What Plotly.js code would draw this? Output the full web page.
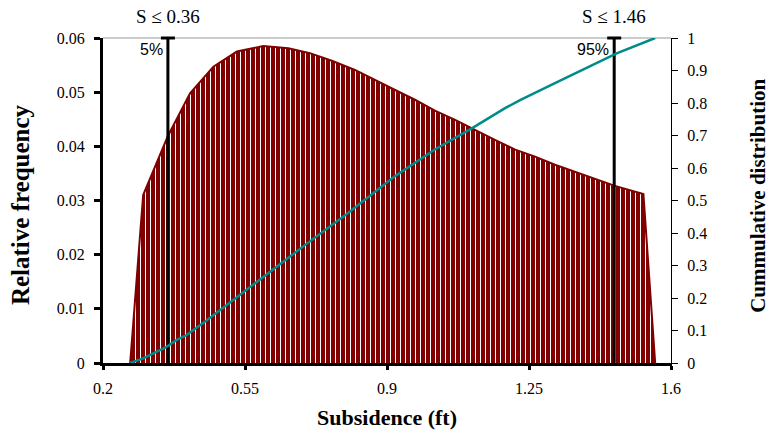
<!DOCTYPE html>
<html>
<head>
<meta charset="utf-8">
<script src="https://cdn.plot.ly/plotly-3.0.1.min.js"></script>
<style>html,body{margin:0;padding:0;background:#fff;}#chart{width:769px;height:431px;}</style>
</head>
<body>
<div id="chart"></div>
<script>
// Relative frequency outline (subsidence in ft)
const freqX = [0.267, 0.299, 0.360, 0.4145, 0.472, 0.530, 0.595, 0.657, 0.710, 0.764, 0.821, 0.870, 0.920, 0.969, 1.018, 1.068, 1.117, 1.166, 1.216, 1.265, 1.314, 1.363, 1.413, 1.462, 1.532, 1.561];
const freqY = [0, 0.0310, 0.0419, 0.0498, 0.0547, 0.0575, 0.0585, 0.0581, 0.0572, 0.0558, 0.0541, 0.0522, 0.0504, 0.0486, 0.0466, 0.0449, 0.0430, 0.0412, 0.0394, 0.0381, 0.0366, 0.0353, 0.0341, 0.0327, 0.0312, 0];
// Cumulative distribution
const cumX = [0.267, 0.30, 0.353, 0.382, 0.406, 0.451, 0.521, 0.60, 0.70, 0.80, 0.92, 1.018, 1.109, 1.191, 1.228, 1.314, 1.433, 1.466, 1.561];
const cumY = [0, 0.015, 0.047, 0.071, 0.086, 0.127, 0.194, 0.27, 0.365, 0.458, 0.575, 0.657, 0.722, 0.784, 0.809, 0.861, 0.932, 0.953, 1.0];
// Percentile markers
const pctX = [0.36, 1.46];
const pctLabels = ["5%", "95%"];
const pctTitles = ["S ≤ 0.36", "S ≤ 1.46"];
// Axis ticks
const xTicks = [0.2, 0.55, 0.9, 1.25, 1.6];
const xTickText = ["0.2", "0.55", "0.9", "1.25", "1.6"];

const serif = "Liberation Serif, Times New Roman, serif";
const sans = "Liberation Sans, Arial, sans-serif";

const traces = [
  {
    x: freqX, y: freqY, type: "scatter", mode: "lines",
    fill: "tozeroy", fillcolor: "#800000",
    fillpattern: {shape: "|", bgcolor: "#800000", fgcolor: "#ffffff", size: 5, solidity: 0.2},
    line: {color: "#800000", width: 2},
    hoverinfo: "skip", showlegend: false
  },
  {
    x: cumX, y: cumY, type: "scatter", mode: "lines", yaxis: "y2",
    line: {color: "#008b8b", width: 2.5},
    showlegend: false
  }
];
pctX.forEach(function (px) {
  traces.push({
    x: [px, px], y: [0, 0.06], type: "scatter", mode: "lines",
    line: {color: "#000", width: 3}, showlegend: false, hoverinfo: "skip"
  });
  traces.push({
    x: [px], y: [0.06], type: "scatter", mode: "markers",
    marker: {symbol: "line-ew", size: 10, line: {color: "#000", width: 3}},
    showlegend: false, hoverinfo: "skip", cliponaxis: false
  });
});

const annotations = [];
pctX.forEach(function (px, i) {
  annotations.push({
    x: px, y: 0.06, xref: "x", yref: "y", text: pctLabels[i], showarrow: false,
    xanchor: "right", yanchor: "top", xshift: -3, yshift: -1,
    font: {family: sans, size: 16, color: "#000"}
  });
  annotations.push({
    x: px, y: 1, xref: "paper", yref: "paper", text: pctTitles[i], showarrow: false,
    xanchor: "center", yanchor: "bottom", yshift: 9,
    font: {family: serif, size: 19, color: "#000"}
  });
  annotations[annotations.length - 1].xref = "x";
});
annotations.push({
  x: -0.146, y: 0.486, xref: "paper", yref: "paper", text: "<b>Relative frequency</b>",
  showarrow: false, textangle: -90, xanchor: "center", yanchor: "middle",
  font: {family: serif, size: 25, color: "#000"}
});
annotations.push({
  x: 1.153, y: 0.148, xref: "paper", yref: "paper", text: "<b>Cummulative distribution</b>",
  showarrow: false, textangle: -90, xanchor: "center", yanchor: "bottom",
  font: {family: serif, size: 21, color: "#000"}
});

const layout = {
  width: 769, height: 431,
  margin: {l: 103, r: 98, t: 38, b: 68},
  paper_bgcolor: "#fff", plot_bgcolor: "#fff",
  showlegend: false,
  xaxis: {
    range: [0.2, 1.6], tickvals: xTicks, ticktext: xTickText,
    showgrid: false, zeroline: false,
    showline: true, linecolor: "#000", linewidth: 3,
    ticks: "outside", ticklen: 4, tickwidth: 3, tickcolor: "#000",
    ticklabelstandoff: 5,
    tickfont: {family: serif, size: 16, color: "#000"},
    title: {text: "<b>Subsidence (ft)</b>", font: {family: serif, size: 22, color: "#000"}, standoff: 14}
  },
  yaxis: {
    range: [0, 0.06], dtick: 0.01, tick0: 0,
    showgrid: false, zeroline: false,
    showline: true, linecolor: "#000", linewidth: 3,
    ticks: "outside", ticklen: 6, tickwidth: 3, tickcolor: "#000",
    ticklabelstandoff: 6,
    tickfont: {family: serif, size: 16, color: "#000"}
  },
  yaxis3: {
    range: [0, 0.06], dtick: 0.01, tick0: 0, overlaying: "y", side: "left",
    showgrid: false, zeroline: false, showline: false, showticklabels: false,
    ticks: "inside", ticklen: 6, tickwidth: 3, tickcolor: "#000"
  },
  yaxis2: {
    range: [0, 1], dtick: 0.1, tick0: 0, overlaying: "y", side: "right",
    showgrid: false, zeroline: false,
    showline: true, linecolor: "#000", linewidth: 1,
    ticks: "outside", ticklen: 6, tickwidth: 1, tickcolor: "#000",
    ticklabelstandoff: 6,
    tickfont: {family: serif, size: 16, color: "#000"}
  },
  yaxis4: {
    range: [0, 1], dtick: 0.1, tick0: 0, overlaying: "y", side: "right",
    showgrid: false, zeroline: false, showline: false, showticklabels: false,
    ticks: "inside", ticklen: 6, tickwidth: 1, tickcolor: "#000"
  },
  shapes: [
    {type: "line", xref: "paper", yref: "paper", x0: 0, x1: 1, y0: 1, y1: 1,
     line: {color: "#999", width: 1.2}, layer: "below"}
  ],
  annotations: annotations
};

Plotly.newPlot("chart", traces, layout, {displayModeBar: false, staticPlot: true});
</script>
</body>
</html>
